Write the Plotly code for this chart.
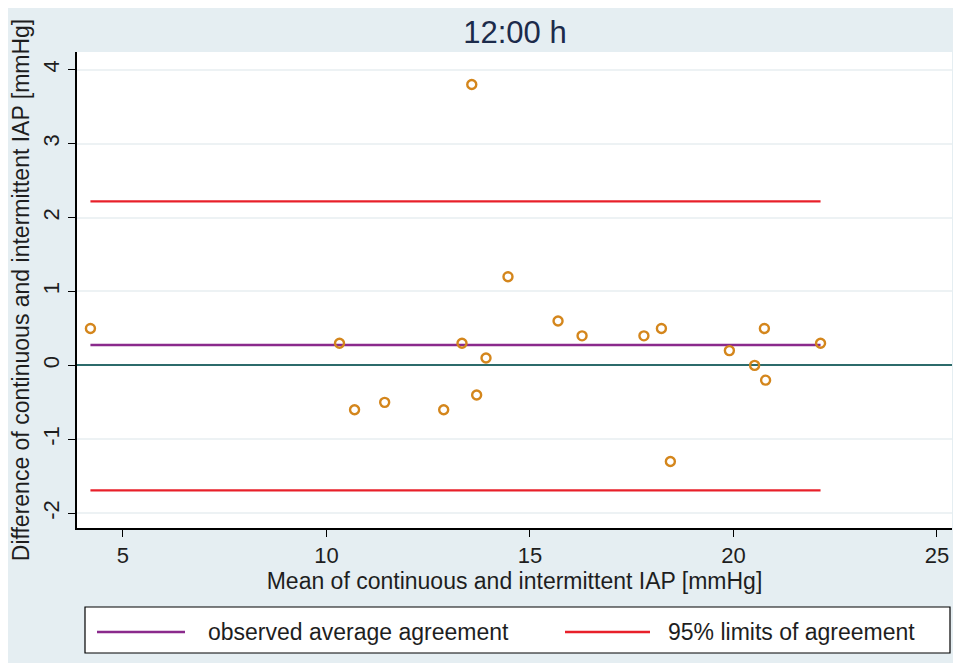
import plotly.graph_objects as go

# ---- data ----
mean_vals = [4.2, 10.32, 10.69, 11.43, 12.88, 13.33, 13.57, 13.69, 13.92, 14.46,
             15.69, 16.28, 17.8, 18.23, 18.45, 19.9, 20.52, 20.76, 20.79, 22.14]
diff_vals = [0.5, 0.3, -0.6, -0.5, -0.6, 0.3, 3.8, -0.4, 0.1, 1.2,
             0.6, 0.4, 0.4, 0.5, -1.3, 0.2, 0.0, 0.5, -0.2, 0.3]
avg_agreement = 0.275
limits_agreement = [2.22, -1.69]
x_ticks = [5, 10, 15, 20, 25]
y_ticks = [-2, -1, 0, 1, 2, 3, 4]
legend_labels = ["observed average agreement", "95% limits of agreement"]
title_text = "12:00 h"
x_title = "Mean of continuous and intermittent IAP [mmHg]"
y_title = "Difference of continuous and intermittent IAP [mmHg]"

PURPLE = "#8a2a8c"
RED = "#e8202a"
ORANGE = "#d4861c"
TEAL = "#2c6b6b"
BG = "#e5eef2"
FONT = "Liberation Sans, Arial, sans-serif"
TXT = "#1e1e1e"

xmin, xmax = min(mean_vals), max(mean_vals)

fig = go.Figure()
fig.add_trace(go.Scatter(x=[xmin, xmax], y=[avg_agreement, avg_agreement], mode="lines",
                         line=dict(color=PURPLE, width=2.5), name=legend_labels[0],
                         showlegend=False, hoverinfo="skip"))
for lim in limits_agreement:
    fig.add_trace(go.Scatter(x=[xmin, xmax], y=[lim, lim], mode="lines",
                             line=dict(color=RED, width=2.2), name=legend_labels[1],
                             showlegend=False, hoverinfo="skip"))
fig.add_trace(go.Scatter(x=mean_vals, y=diff_vals, mode="markers",
                         marker=dict(symbol="circle-open", size=9, color=ORANGE,
                                     line=dict(color=ORANGE, width=2.4)),
                         showlegend=False))

# figure is shifted 8px by the page's body margin; sizes compensate for it
fig.update_layout(
    width=953, height=655,
    paper_bgcolor=BG, plot_bgcolor="white",
    margin=dict(l=69, r=9, t=44, b=135),
    font=dict(family=FONT, size=22, color=TXT),
    title=dict(text=title_text, x=0.532, xanchor="center", y=0.963, yanchor="middle",
               font=dict(family=FONT, size=31, color="#1c2b4b")),
    showlegend=False,
)
fig.update_xaxes(range=[3.87, 25.37], tickvals=x_ticks, showgrid=False, zeroline=False,
                 showline=True, linecolor="black", linewidth=1.5, ticks="outside",
                 ticklen=7, tickcolor="black", tickfont=dict(size=22), automargin=False,
                 title=dict(text=x_title, font=dict(size=23), standoff=2))
fig.update_yaxes(range=[-2.2, 4.24], tickvals=y_ticks, ticktext=[str(v) for v in y_ticks],
                 tickangle=-90,
                 showgrid=True, gridcolor="#edf2f4", gridwidth=1.5,
                 zeroline=True, zerolinecolor=TEAL, zerolinewidth=2,
                 showline=True, linecolor="black", linewidth=1.5, ticks="outside",
                 ticklen=7, tickcolor="black", tickfont=dict(size=22), automargin=False,
                 title=dict(text=y_title, font=dict(size=23), standoff=4))

# legend box (drawn, Stata style)
W, H = 875.0, 476.0
def px(v):
    return (v - 77) / W
def py(v):
    return (528 - v) / H
fig.add_shape(type="rect", xref="paper", yref="paper", x0=px(85), x1=px(950),
              y0=py(653), y1=py(607), line=dict(color="black", width=1.2), fillcolor="white")
fig.add_shape(type="line", xref="paper", yref="paper", x0=px(97), x1=px(185),
              y0=py(632), y1=py(632), line=dict(color=PURPLE, width=2.5))
fig.add_shape(type="line", xref="paper", yref="paper", x0=px(565), x1=px(650),
              y0=py(632), y1=py(632), line=dict(color=RED, width=2.5))
fig.add_annotation(xref="paper", yref="paper", x=px(206), y=py(632), xanchor="left",
                   yanchor="middle", text=legend_labels[0], showarrow=False,
                   font=dict(size=23, color=TXT))
fig.add_annotation(xref="paper", yref="paper", x=px(666), y=py(632), xanchor="left",
                   yanchor="middle", text=legend_labels[1], showarrow=False,
                   font=dict(size=23, color=TXT))

fig.write_html("out.html")
